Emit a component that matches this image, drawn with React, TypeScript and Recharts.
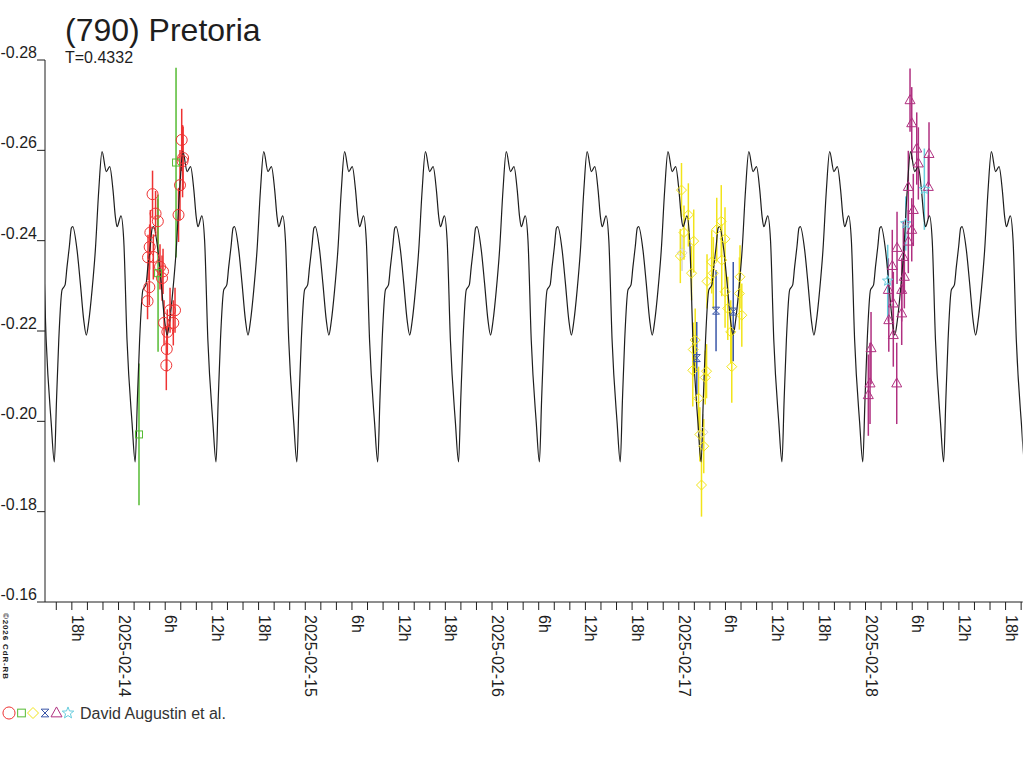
import React from "react";
import { ComposedChart, Line, Scatter, XAxis, YAxis, ErrorBar } from "recharts";

// time axis: hours since 2025-02-14 00:00
const period = 10.39;
const firstMinimum = -8.25;
const cyclePhase = [0, 0.28, 0.57, 0.99, 1.38, 1.63, 1.93, 2.19, 2.36, 2.92, 3.34, 3.78, 4.11, 4.42, 4.85, 5.27, 5.71, 6.13, 6.68, 7.12, 7.54, 7.84, 8.06, 8.57, 8.92, 9.34, 9.99];
const cycleMag = [-0.191, -0.2047, -0.218, -0.2291, -0.2302, -0.2342, -0.2387, -0.2428, -0.2431, -0.2379, -0.2306, -0.2224, -0.2191, -0.2221, -0.2291, -0.2379, -0.2512, -0.2597, -0.2553, -0.2564, -0.2512, -0.2453, -0.2431, -0.2455, -0.2401, -0.218, -0.1996];

const redTime = [4.37, 4.76, 5.05, 4.09, 4.0, 3.79, 4.47, 5.33, 5.72, 5.59, 3.96, 3.73, 6.62, 7.26, 5.85, 7.04, 6.27, 6.2, 6.14, 7.71, 7.9, 8.23, 8.12, 8.3];
const redMag = [-0.2503, -0.246, -0.2443, -0.2418, -0.2386, -0.2363, -0.2364, -0.2342, -0.2332, -0.2317, -0.2297, -0.2266, -0.2246, -0.2246, -0.2218, -0.2218, -0.2198, -0.216, -0.2124, -0.2457, -0.2523, -0.2576, -0.2623, -0.2583];
const redErr = [0.0052, 0.005, 0.005, 0.005, 0.005, 0.005, 0.005, 0.005, 0.005, 0.005, 0.004, 0.004, 0.005, 0.005, 0.005, 0.005, 0.005, 0.005, 0.0055, 0.006, 0.0078, 0.008, 0.0069, 0.007];

const greenTime = [2.63, 5.08, 7.39];
const greenMag = [-0.1971, -0.2328, -0.2573];
const greenErr = [0.0157, 0.0174, 0.021];

const yellowTime = [72.35, 73.23, 72.67, 73.92, 72.2, 73.64, 74.11, 73.86, 73.8, 75.57, 75.4, 74.54, 74.71, 75.21, 74.92, 77.46, 76.88, 77.94, 76.23, 76.44, 75.63, 77.52, 79.87, 79.79, 80.1, 78.68, 78.81, 77.95, 78.3];
const yellowMag = [-0.2512, -0.2457, -0.2418, -0.2399, -0.2366, -0.2328, -0.218, -0.2159, -0.2113, -0.2111, -0.2097, -0.2051, -0.1971, -0.1945, -0.1859, -0.2443, -0.2425, -0.2404, -0.2353, -0.2328, -0.231, -0.2357, -0.232, -0.2283, -0.2235, -0.2198, -0.2121, -0.2287, -0.225];
const yellowErr = [0.006, 0.007, 0.006, 0.007, 0.006, 0.006, 0.007, 0.006, 0.008, 0.006, 0.006, 0.007, 0.006, 0.006, 0.007, 0.008, 0.007, 0.007, 0.007, 0.008, 0.006, 0.008, 0.007, 0.008, 0.007, 0.007, 0.008, 0.008, 0.007];

const grayTime = [72.42, 75.1];
const grayMag = [-0.2373, -0.1976];
const grayErr = [0.004, 0.004];

const blueTime = [74.31, 76.79, 79.0];
const blueMag = [-0.214, -0.2245, -0.2243];
const blueErr = [0.008, 0.009, 0.011];

const magentaTime = [101.72, 101.94, 102.58, 104.16, 102.79, 101.5, 104.07, 102.14, 101.94, 101.5, 100.86, 100.99, 99.44, 98.93, 100.65, 99.57, 100.65, 99.57, 100.01, 96.71, 96.58, 96.36, 100.05, 98.99];
const magentaMag = [-0.2711, -0.266, -0.2604, -0.2592, -0.2571, -0.2519, -0.2519, -0.2468, -0.2424, -0.2398, -0.2364, -0.232, -0.2344, -0.2291, -0.2291, -0.2261, -0.2239, -0.2191, -0.2084, -0.2162, -0.2084, -0.2058, -0.2384, -0.2224];
const magentaErr = [0.007, 0.008, 0.008, 0.007, 0.008, 0.008, 0.007, 0.008, 0.007, 0.007, 0.008, 0.007, 0.008, 0.007, 0.007, 0.007, 0.007, 0.007, 0.009, 0.008, 0.009, 0.009, 0.008, 0.007];

const cyanTime = [98.85, 101.17, 103.56];
const cyanMag = [-0.2311, -0.2438, -0.2514];
const cyanErr = [0.008, 0.006, 0.009];

const yTicks = [-0.28, -0.26, -0.24, -0.22, -0.2, -0.18, -0.16];
const hourTicks = Array.from({ length: 63 }, (_, i) => -8 + i * 2);
const dayLabels = ["2025-02-14", "2025-02-15", "2025-02-16", "2025-02-17", "2025-02-18"];

const FONT = "'Liberation Sans', Arial, sans-serif";
const INK = "#1e1e1e";

const toPoints = (t: number[], v: number[], e: number[]) => t.map((x, i) => ({ t: x, v: v[i], e: e[i] }));

const model: { t: number; v: number }[] = [];
for (let k = -1; k <= 12; k++) {
  cyclePhase.forEach((p, i) => {
    const t = firstMinimum + k * period + p;
    if (t > -12 && t < 119) model.push({ t, v: cycleMag[i] });
  });
}

const starPath = (r: number) => {
  const pts: string[] = [];
  for (let i = 0; i < 10; i++) {
    const a = -Math.PI / 2 + (i * Math.PI) / 5;
    const rr = i % 2 === 0 ? r : r * 0.42;
    pts.push(`${(Math.cos(a) * rr).toFixed(2)},${(Math.sin(a) * rr).toFixed(2)}`);
  }
  return "M" + pts.join("L") + "Z";
};

const marker = (kind: string, color: string, s = 1) => (p: any) => {
  const { cx, cy } = p;
  if (cx == null || cy == null) return <g />;
  const common = { fill: "none", stroke: color, strokeWidth: 1 };
  switch (kind) {
    case "circle":
      return <circle cx={cx} cy={cy} r={5.5 * s} {...common} />;
    case "square":
      return <rect x={cx - 3.5 * s} y={cy - 3.5 * s} width={7 * s} height={7 * s} {...common} />;
    case "diamond":
      return <path d={`M${cx},${cy - 5 * s}L${cx + 5 * s},${cy}L${cx},${cy + 5 * s}L${cx - 5 * s},${cy}Z`} {...common} />;
    case "hourglass":
      return <path d={`M${cx - 3.5 * s},${cy - 3.5 * s}L${cx + 3.5 * s},${cy - 3.5 * s}L${cx - 3.5 * s},${cy + 3.5 * s}L${cx + 3.5 * s},${cy + 3.5 * s}Z`} {...common} />;
    case "triangle":
      return <path d={`M${cx},${cy - 5.5 * s}L${cx + 5 * s},${cy + 3.5 * s}L${cx - 5 * s},${cy + 3.5 * s}Z`} {...common} />;
    default:
      return <path d={starPath(5.5 * s)} transform={`translate(${cx},${cy})`} {...common} />;
  }
};

const YTick = (props: any) => {
  const { x, y, payload } = props;
  return (
    <text x={x} y={y - 2} textAnchor="end" fontSize={16} fontFamily={FONT} fill={INK}>
      {Number(payload.value).toFixed(2)}
    </text>
  );
};

const XTick = (props: any) => {
  const { x, y, payload } = props;
  const t = payload.value as number;
  if (t % 6 !== 0) return <g />;
  const h = ((t % 24) + 24) % 24;
  const label = h === 0 ? dayLabels[t / 24] : `${h}h`;
  return (
    <text transform={`translate(${x},${y}) rotate(90)`} x={0} y={0} textAnchor="start" fontSize={16} fontFamily={FONT} fill={INK}>
      {label}
    </text>
  );
};

const series = [
  { name: "red", color: "#ee3333", kind: "circle", data: toPoints(redTime, redMag, redErr) },
  { name: "green", color: "#55bb33", kind: "square", data: toPoints(greenTime, greenMag, greenErr) },
  { name: "gray", color: "#d4d4d4", kind: "diamond", data: toPoints(grayTime, grayMag, grayErr) },
  { name: "yellow", color: "#f2e41a", kind: "diamond", data: toPoints(yellowTime, yellowMag, yellowErr) },
  { name: "blue", color: "#3a56a8", kind: "hourglass", data: toPoints(blueTime, blueMag, blueErr) },
  { name: "magenta", color: "#b03080", kind: "triangle", data: toPoints(magentaTime, magentaMag, magentaErr) },
  { name: "cyan", color: "#66ccdd", kind: "star", data: toPoints(cyanTime, cyanMag, cyanErr) },
];

const legendItems = [
  { kind: "circle", color: "#ee3333", x: 9 },
  { kind: "square", color: "#55bb33", x: 21.5 },
  { kind: "diamond", color: "#f2e41a", x: 33 },
  { kind: "hourglass", color: "#3a56a8", x: 45 },
  { kind: "triangle", color: "#b03080", x: 56.5 },
  { kind: "star", color: "#66ccdd", x: 68 },
];

export default function App() {
  return (
    <div style={{ position: "absolute", left: 0, top: 0, width: 1024, height: 768, background: "#fff" }}>
      <ComposedChart width={1024} height={768} margin={{ top: 60, right: 1.3, bottom: 0, left: 0 }}>
        <XAxis
          dataKey="t"
          type="number"
          domain={[-9.45, 116.2]}
          allowDataOverflow
          ticks={hourTicks}
          interval={0}
          tickSize={8}
          tickMargin={5}
          height={166}
          axisLine={{ stroke: INK }}
          tickLine={{ stroke: INK }}
          tick={<XTick />}
        />
        <YAxis
          dataKey="v"
          type="number"
          domain={[-0.28, -0.16]}
          reversed
          allowDataOverflow
          ticks={yTicks}
          interval={0}
          tickSize={8}
          tickMargin={0}
          width={45}
          axisLine={{ stroke: INK }}
          tickLine={{ stroke: INK }}
          tick={<YTick />}
        />
        {series.map(s => (
          <Scatter key={s.name} data={s.data} dataKey="v" shape={marker(s.kind, s.color)} isAnimationActive={false}>
            <ErrorBar dataKey="e" direction="y" width={0} stroke={s.color} strokeWidth={1.5} isAnimationActive={false} />
          </Scatter>
        ))}
        <Line data={model} dataKey="v" type="monotone" stroke={INK} strokeWidth={1.2} dot={false} activeDot={false} isAnimationActive={false} />
      </ComposedChart>
      <svg width={1024} height={768} style={{ position: "absolute", left: 0, top: 0, pointerEvents: "none" }}>
        <text x={65} y={41} fontSize={32} fontFamily={FONT} fill={INK}>(790) Pretoria</text>
        <text x={65} y={63} fontSize={16} fontFamily={FONT} fill={INK}>T=0.4332</text>
        <text transform="translate(3,613) rotate(90)" fontSize={8} fontWeight="bold" fontFamily={FONT} fill={INK} textLength={66} lengthAdjust="spacing">
          ©2026 CdR-RB
        </text>
        {legendItems.map(l => (
          <g key={l.kind}>{marker(l.kind, l.color, 1.1)({ cx: l.x, cy: 713 })}</g>
        ))}
        <text x={80} y={719} fontSize={16} fontFamily={FONT} fill="#333">David Augustin et al.</text>
      </svg>
    </div>
  );
}
